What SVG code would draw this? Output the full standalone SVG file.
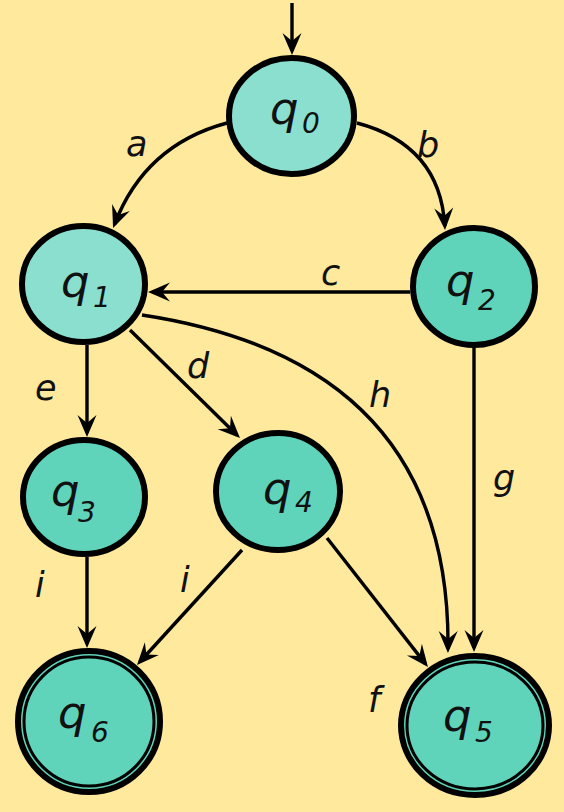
<svg xmlns="http://www.w3.org/2000/svg" width="564" height="812" viewBox="0 0 564 812">
<style>
.bg{fill:#FFE99C}
.n{stroke:#000;stroke-width:6}
.light{fill:#8ADFCF}
.dark{fill:#5FD4BB}
.inner{fill:none;stroke:#000;stroke-width:3}
.e{fill:none;stroke:#000;stroke-width:3.4;marker-end:url(#arr)}
.q{font-family:"DejaVu Sans","Verdana",sans-serif;font-style:italic;font-size:45px;fill:#111}
.s{font-family:"DejaVu Sans","Verdana",sans-serif;font-style:italic;font-size:28px;fill:#111}
.l{font-family:"DejaVu Sans","Verdana",sans-serif;font-style:italic;font-size:35px;fill:#111}
</style>
<defs>
<marker id="arr" markerUnits="userSpaceOnUse" viewBox="-22 -12 30 24" refX="0" refY="0" markerWidth="30" markerHeight="24" orient="auto">
<path d="M4,0 L-18,-9.5 L-10,0 L-18,9.5 Z" fill="#000"/>
</marker>
</defs>
<rect class="bg" x="0" y="0" width="564" height="812"/>
<g id="connectors">
<path class="e" d="M292,3 L292,51"/>
<path class="e" d="M227,123 Q145,145 114.5,224.3"/>
<path class="e" d="M357,123 Q440,145 444.8,226"/>
<path class="e" d="M410,292 L152,292"/>
<path class="e" d="M142,315 C340,345 450,450 448,649"/>
<path class="e" d="M130,330 L237.1,435.2"/>
<path class="e" d="M87,345 L87,433"/>
<path class="e" d="M474,348 L474,648"/>
<path class="e" d="M327,538 L425.5,663.9"/>
<path class="e" d="M87,557 L87,644"/>
<path class="e" d="M242,550 L139.7,662"/>
<text class="l" x="126" y="156">a</text>
<text class="l" x="417" y="157">b</text>
<text class="l" x="321" y="285">c</text>
<text class="l" x="187" y="378">d</text>
<text class="l" x="369" y="407">h</text>
<text class="l" x="35" y="400">e</text>
<text class="l" x="493" y="490">g</text>
<text class="l" x="368" y="712">f</text>
<text class="l" x="35" y="597">i</text>
<text class="l" x="180" y="592">i</text>
</g>
<g id="q0">
<ellipse class="n light" cx="291.5" cy="116" rx="62.5" ry="58"/>
<text class="q" x="270" y="124">q</text><text class="s" x="302" y="133">0</text>
</g>
<g id="q1">
<ellipse class="n light" cx="83.5" cy="284" rx="61.5" ry="58"/>
<text class="q" x="61" y="297">q</text><text class="s" x="93" y="307">1</text>
</g>
<g id="q2">
<ellipse class="n dark" cx="474" cy="286.5" rx="61" ry="58.5"/>
<text class="q" x="446" y="296">q</text><text class="s" x="478" y="310">2</text>
</g>
<g id="q3">
<ellipse class="n dark" cx="84" cy="497" rx="61" ry="57"/>
<text class="q" x="51" y="506">q</text><text class="s" x="78" y="522">3</text>
</g>
<g id="q4">
<ellipse class="n dark" cx="278" cy="491.5" rx="62" ry="58.5"/>
<text class="q" x="263" y="504">q</text><text class="s" x="295" y="512">4</text>
</g>
<g id="q6">
<ellipse class="n dark" cx="89" cy="721.5" rx="71" ry="70.5"/>
<ellipse class="inner" cx="89" cy="721.5" rx="65" ry="64.5"/>
<text class="q" x="58" y="728">q</text><text class="s" x="91" y="742">6</text>
</g>
<g id="q5">
<ellipse class="n dark" cx="475" cy="725.5" rx="74" ry="69.5"/>
<ellipse class="inner" cx="475" cy="725.5" rx="68" ry="63.5"/>
<text class="q" x="443" y="731">q</text><text class="s" x="475" y="742">5</text>
</g>
</svg>
